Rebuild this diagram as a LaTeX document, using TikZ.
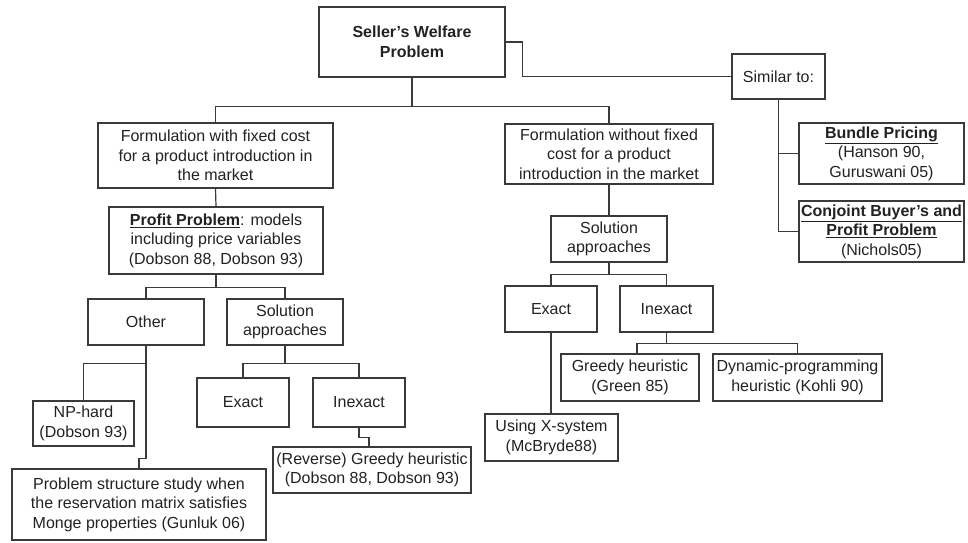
\documentclass[tikz,border=0pt]{standalone}
\usepackage{fontspec}
\setmainfont{Liberation Sans}
\definecolor{ln}{HTML}{3A3A3A}
\definecolor{tx}{HTML}{222222}
\tikzset{
  bx/.style={draw=ln, line width=1.2pt, fill=white, align=center, inner sep=0pt, text=tx,
    font=\fontsize{16}{19.5}\selectfont},
  conn/.style={draw=ln, line width=1.2pt},
}
\newcommand{\bul}[1]{\underline{\textbf{#1}}}
\begin{document}
\begin{tikzpicture}[x=1pt,y=-1pt]
\useasboundingbox (0,0) rectangle (968,542);
% nodes
\node[bx, minimum width=186, minimum height=70] (root) at (412,42) {\textbf{Seller’s Welfare}\\\textbf{Problem}};
\node[bx, minimum width=93, minimum height=45] (sim) at (778.5,76.5) {Similar to:};
\node[bx, minimum width=165, minimum height=61] (bundle) at (881.5,153.5) {\bul{Bundle Pricing}\\(Hanson 90,\\Guruswani 05)};
\node[bx, minimum width=165, minimum height=61] (conj) at (881.5,231.5) {\bul{Conjoint Buyer’s and}\\\bul{Profit Problem}\\(Nichols05)};
\node[bx, minimum width=235, minimum height=65] (fw) at (215.5,155.5) {Formulation with fixed cost\\for a product introduction in\\the market};
\node[bx, minimum width=208, minimum height=60] (fwo) at (609,154) {Formulation without fixed\\cost for a product\\introduction in the market};
\node[bx, minimum width=214, minimum height=67] (profit) at (216,240.5) {\bul{Profit Problem}: models\\including price variables\\(Dobson 88, Dobson 93)};
\node[bx, minimum width=116, minimum height=46] (other) at (146,322) {Other};
\node[bx, minimum width=116, minimum height=46] (solL) at (285,322) {Solution\\approaches};
\node[bx, minimum width=101, minimum height=45] (nphard) at (83.5,423.5) {NP-hard\\(Dobson 93)};
\node[bx, minimum width=254, minimum height=71] (prob) at (139,504.5) {Problem structure study when\\the reservation matrix satisfies\\Monge properties (Gunluk 06)};
\node[bx, minimum width=92, minimum height=49] (exL) at (243,402.5) {Exact};
\node[bx, minimum width=92, minimum height=49] (inL) at (359,402.5) {Inexact};
\node[bx, minimum width=198, minimum height=46] (rev) at (372,470) {(Reverse) Greedy heuristic\\(Dobson 88, Dobson 93)};
\node[bx, minimum width=116, minimum height=46] (solR) at (609,239) {Solution\\approaches};
\node[bx, minimum width=92, minimum height=46] (exR) at (551,309) {Exact};
\node[bx, minimum width=93, minimum height=46] (inR) at (666.5,309) {Inexact};
\node[bx, minimum width=133, minimum height=47] (usex) at (551.5,437.5) {Using X-system\\(McBryde88)};
\node[bx, minimum width=138, minimum height=47] (greedy) at (630,377.5) {Greedy heuristic\\(Green 85)};
\node[bx, minimum width=169, minimum height=47] (dyn) at (797.5,377.5) {Dynamic-programming\\heuristic (Kohli 90)};
% connectors
\draw[conn] (root.south) -- ++(0,29) -| (fw.north);
\draw[conn] (root.south) -- ++(0,29) -| (fwo.north);
\draw[conn] (root.east) -- ++(17,0) |- (sim.west);
\draw[conn] (sim.south) |- (bundle.west);
\draw[conn] (sim.south) |- (conj.west);
\draw[conn] (fw.south) -- (profit.north);
\draw[conn] (profit.south) -- ++(0,13) -| (other.north);
\draw[conn] (profit.south) -- ++(0,13) -| (solL.north);
\draw[conn] (other.south) -- ++(0,18) -| (nphard.north);
\draw[conn] (other.south) -- ++(0,113) -| (prob.north);
\draw[conn] (solL.south) -- ++(0,18) -| (exL.north);
\draw[conn] (solL.south) -- ++(0,18) -| (inL.north);
\draw[conn] (inL.south) -- ++(0,10) -| ([xshift=-3pt]rev.north);
\draw[conn] (fwo.south) -- (solR.north);
\draw[conn] (solR.south) -- ++(0,12) -| (exR.north);
\draw[conn] (solR.south) -- ++(0,12) -| (inR.north);
\draw[conn] (exR.south) -- (usex.north -| exR.south);
\draw[conn] (inR.south) -- ++(0,11) -| ([xshift=7pt]greedy.north);
\draw[conn] (inR.south) -- ++(0,11) -| (dyn.north);
\end{tikzpicture}
\end{document}
